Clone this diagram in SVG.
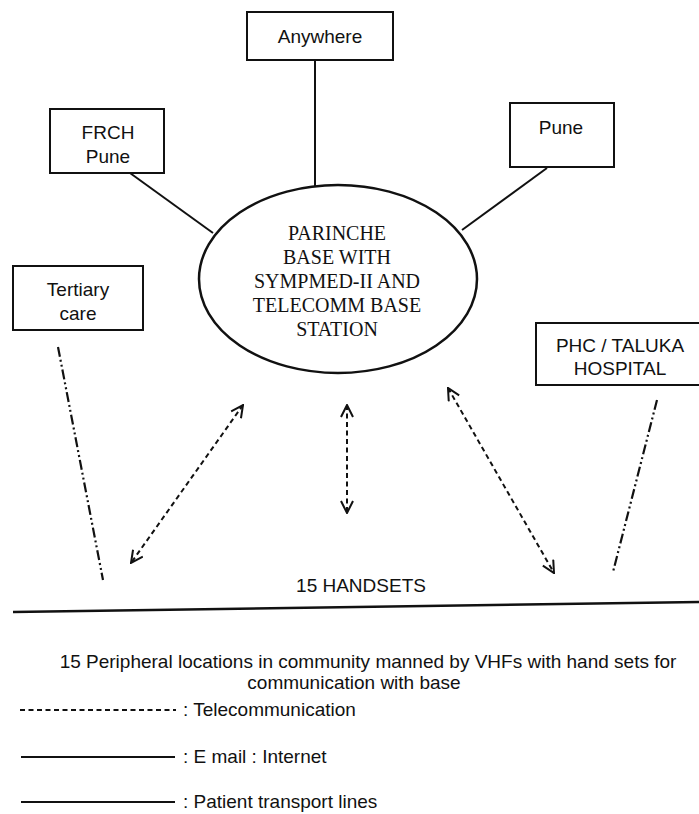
<svg xmlns="http://www.w3.org/2000/svg" width="699" height="814" viewBox="0 0 699 814">
<defs>
<style>
.bg{fill:#ffffff}
.box{fill:#ffffff;stroke:#111;stroke-width:2}
.ell{fill:#ffffff;stroke:#111;stroke-width:2.5}
.solid{fill:none;stroke:#111;stroke-width:2}
.tele{fill:none;stroke:#111;stroke-width:2;stroke-dasharray:5 3.5}
.trans{fill:none;stroke:#111;stroke-width:2.2;stroke-dasharray:10 3 2 3 2 3}
.sans{font-family:"Liberation Sans",Arial,sans-serif;font-size:19px;fill:#111}
.serif{font-family:"Liberation Serif","Times New Roman",serif;font-size:20px;fill:#111}
.c{text-anchor:middle}
</style>
<marker id="vhead" viewBox="0 0 14 14" refX="13" refY="7" markerWidth="14" markerHeight="14" markerUnits="userSpaceOnUse" orient="auto-start-reverse">
<path d="M1,1 L13,7 L1,13" fill="none" stroke="#111" stroke-width="2"/>
</marker>
</defs>
<rect class="bg" x="0" y="0" width="699" height="814"/>

<g id="connectors">
<line class="solid" x1="315" y1="60" x2="315" y2="186"/>
<line class="solid" x1="130" y1="173" x2="213" y2="233"/>
<line class="solid" x1="547" y1="168" x2="462" y2="230"/>
<line class="trans" x1="58" y1="347" x2="103" y2="580"/>
<line class="trans" x1="657" y1="400" x2="613" y2="572"/>
<line class="tele" x1="243" y1="405" x2="131" y2="563" marker-start="url(#vhead)" marker-end="url(#vhead)"/>
<line class="tele" x1="347" y1="405" x2="347" y2="513" marker-start="url(#vhead)" marker-end="url(#vhead)"/>
<line class="tele" x1="448" y1="388" x2="554" y2="573" marker-start="url(#vhead)" marker-end="url(#vhead)"/>
</g>

<g id="anywhere">
<rect class="box" x="247" y="12" width="146" height="48"/>
<text class="sans c" x="320" y="43">Anywhere</text>
</g>

<g id="frch-pune">
<rect class="box" x="50" y="109" width="114" height="64"/>
<text class="sans c" x="108" y="139">FRCH</text>
<text class="sans c" x="108" y="163">Pune</text>
</g>

<g id="pune">
<rect class="box" x="510" y="103" width="104" height="64"/>
<text class="sans c" x="561" y="134">Pune</text>
</g>

<g id="base">
<ellipse class="ell" cx="338" cy="279" rx="139" ry="94"/>
<text class="serif c" x="337" y="240">PARINCHE</text>
<text class="serif c" x="337" y="264">BASE WITH</text>
<text class="serif c" x="337" y="288">SYMPMED-II AND</text>
<text class="serif c" x="337" y="312">TELECOMM BASE</text>
<text class="serif c" x="337" y="336">STATION</text>
</g>

<g id="tertiary">
<rect class="box" x="13" y="266" width="130" height="64"/>
<text class="sans c" x="78" y="296">Tertiary</text>
<text class="sans c" x="78" y="320">care</text>
</g>

<g id="phc">
<rect class="box" x="536" y="323" width="170" height="62"/>
<text class="sans c" x="620" y="352">PHC / TALUKA</text>
<text class="sans c" x="620" y="375">HOSPITAL</text>
</g>

<g id="handsets">
<text class="sans c" x="361" y="592">15 HANDSETS</text>
</g>

<g id="community">
<line x1="13" y1="612" x2="699" y2="602" stroke="#111" stroke-width="2.5"/>
<text class="sans c" x="368" y="668">15 Peripheral locations in community manned by VHFs with hand sets for</text>
<text class="sans c" x="354" y="689">communication with base</text>
</g>

<g id="legend">
<line class="tele" x1="20" y1="710" x2="176" y2="710"/>
<text class="sans" x="183" y="716">: Telecommunication</text>
<line class="solid" x1="21" y1="757" x2="175" y2="757"/>
<text class="sans" x="183" y="763">: E mail : Internet</text>
<line class="solid" x1="21" y1="802" x2="175" y2="802"/>
<text class="sans" x="183" y="808">: Patient transport lines</text>
</g>
</svg>
